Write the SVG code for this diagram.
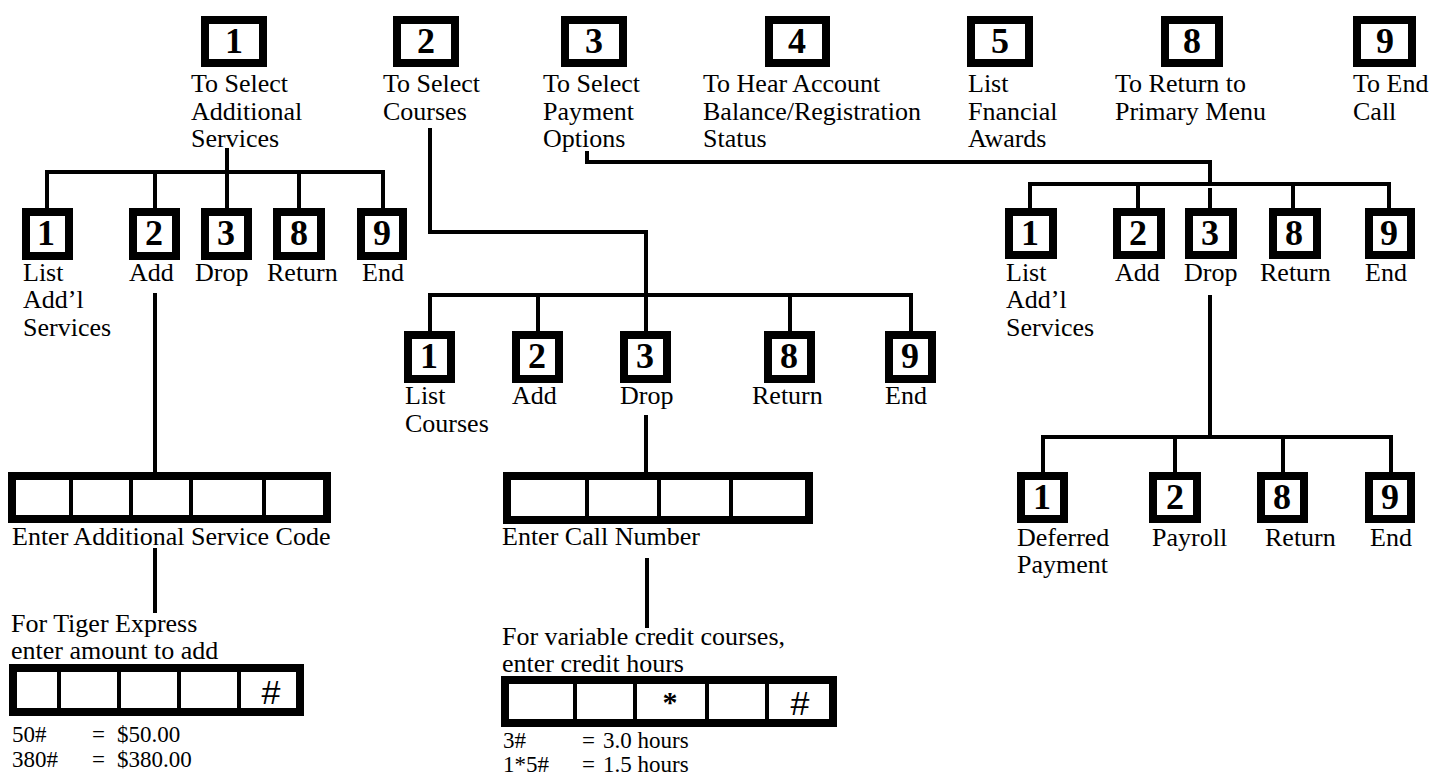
<svg xmlns="http://www.w3.org/2000/svg" width="1437" height="783" viewBox="0 0 1437 783">
<style>
.t{font-family:"Liberation Serif","Times New Roman",serif;font-size:26px;fill:#000}
.e{font-family:"Liberation Serif","Times New Roman",serif;font-size:23px;fill:#000}
.k{fill:#fff;stroke:#000;stroke-width:8}
.d{font-family:"Liberation Serif","Times New Roman",serif;font-size:36px;font-weight:bold;fill:#000;text-anchor:middle}
.h{font-family:"Liberation Sans",Arial,sans-serif;font-size:34px;fill:#000;text-anchor:middle}
.c{fill:none;stroke:#000;stroke-width:4;stroke-linejoin:miter}
.dv{stroke:#000;stroke-width:4}
</style>
<rect width="1437" height="783" fill="#fff"/>
<g id="connectors">
<path class="c" d="M227 148V172M47 208V172H383V208M155 172V208M227 172V208M299 172V208"/>
<path class="c" d="M155 293V472M155 548V613"/>
<path class="c" d="M430 128V232H646V331M430 331V295H911V331M538 295V331M790 295V331"/>
<path class="c" d="M646 415V472M647 558V628"/>
<path class="c" d="M587 151V162H1210V184M1030 208V184H1389V208M1138 184V208M1210 188V208M1293 184V208"/>
<path class="c" d="M1210 295V437M1043 472V437H1391V472M1175 437V472M1283 437V472"/>
</g>
<g id="top1"><rect class="k" x="205" y="20" width="58" height="43"/><text class="d" x="234" y="53">1</text>
<text class="t" x="191" y="92">To Select</text><text class="t" x="191" y="120">Additional</text><text class="t" x="191" y="147">Services</text></g>
<g id="top2"><rect class="k" x="397" y="20" width="58" height="43"/><text class="d" x="426" y="53">2</text>
<text class="t" x="383" y="92">To Select</text><text class="t" x="383" y="120">Courses</text></g>
<g id="top3"><rect class="k" x="565" y="20" width="58" height="43"/><text class="d" x="594" y="53">3</text>
<text class="t" x="543" y="92">To Select</text><text class="t" x="543" y="120">Payment</text><text class="t" x="543" y="147">Options</text></g>
<g id="top4"><rect class="k" x="769" y="20" width="57" height="43"/><text class="d" x="797" y="53">4</text>
<text class="t" x="703" y="92">To Hear Account</text><text class="t" x="703" y="120">Balance/Registration</text><text class="t" x="703" y="147">Status</text></g>
<g id="top5"><rect class="k" x="971" y="20" width="58" height="43"/><text class="d" x="1000" y="53">5</text>
<text class="t" x="968" y="92">List</text><text class="t" x="968" y="120">Fnancial</text><text class="t" x="968" y="147">Awards</text></g>
<g id="top8"><rect class="k" x="1165" y="20" width="54" height="43"/><text class="d" x="1192" y="53">8</text>
<text class="t" x="1115" y="92">To Return to</text><text class="t" x="1115" y="120">Primary Menu</text></g>
<g id="top9"><rect class="k" x="1357" y="20" width="55" height="43"/><text class="d" x="1385" y="53">9</text>
<text class="t" x="1353" y="92">To End</text><text class="t" x="1353" y="120">Call</text></g>

<g id="svc1"><rect class="k" x="26" y="212" width="43" height="44"/><text class="d" x="46" y="245">1</text>
<text class="t" x="23" y="281">List</text><text class="t" x="23" y="308">Add’l</text><text class="t" x="23" y="336">Services</text></g>
<g id="svc2"><rect class="k" x="133" y="212" width="43" height="44"/><text class="d" x="154" y="245">2</text><text class="t" x="129" y="281">Add</text></g>
<g id="svc3"><rect class="k" x="205" y="212" width="43" height="44"/><text class="d" x="226" y="245">3</text><text class="t" x="195" y="281">Drop</text></g>
<g id="svc8"><rect class="k" x="277" y="212" width="44" height="44"/><text class="d" x="299" y="245">8</text><text class="t" x="267" y="281">Return</text></g>
<g id="svc9"><rect class="k" x="361" y="212" width="42" height="44"/><text class="d" x="382" y="245">9</text><text class="t" x="362" y="281">End</text></g>

<g id="svcEntry"><rect class="k" x="12" y="476" width="315" height="43"/>
<path class="dv" d="M71 476V519M131 476V519M191 476V519M264 476V519"/>
<text class="t" x="12" y="545">Enter Additional Service Code</text></g>
<g id="tigerEntry"><text class="t" x="11" y="632">For Tiger Express</text><text class="t" x="11" y="659">enter amount to add</text>
<rect class="k" x="13" y="668" width="287" height="44"/>
<path class="dv" d="M59 668V712M119 668V712M179 668V712M239 668V712"/>
<text class="h" x="271" y="704">#</text>
<text class="e" x="12" y="742">50#</text><text class="e" x="92" y="742">=</text><text class="e" x="117" y="742">$50.00</text>
<text class="e" x="12" y="767">380#</text><text class="e" x="92" y="767">=</text><text class="e" x="117" y="767">$380.00</text></g>

<g id="crs1"><rect class="k" x="408" y="335" width="43" height="44"/><text class="d" x="429" y="368">1</text>
<text class="t" x="405" y="404">List</text><text class="t" x="405" y="432">Courses</text></g>
<g id="crs2"><rect class="k" x="516" y="335" width="43" height="44"/><text class="d" x="537" y="368">2</text><text class="t" x="512" y="404">Add</text></g>
<g id="crs3"><rect class="k" x="624" y="335" width="43" height="44"/><text class="d" x="645" y="368">3</text><text class="t" x="620" y="404">Drop</text></g>
<g id="crs8"><rect class="k" x="768" y="335" width="43" height="44"/><text class="d" x="789" y="368">8</text><text class="t" x="752" y="404">Return</text></g>
<g id="crs9"><rect class="k" x="889" y="335" width="43" height="44"/><text class="d" x="910" y="368">9</text><text class="t" x="885" y="404">End</text></g>

<g id="callEntry"><rect class="k" x="507" y="476" width="302" height="44"/>
<path class="dv" d="M587 476V520M659 476V520M731 476V520"/>
<text class="t" x="502" y="545">Enter Call Number</text></g>
<g id="creditEntry"><text class="t" x="502" y="645">For variable credit courses,</text><text class="t" x="502" y="672">enter credit hours</text>
<rect class="k" x="505" y="680" width="328" height="43"/>
<path class="dv" d="M575 680V723M635 680V723M707 680V723M767 680V723"/>
<text class="d" x="670" y="712" style="font-size:30px">*</text>
<text class="h" x="800" y="715">#</text>
<text class="e" x="503" y="748">3#</text><text class="e" x="582" y="748">=</text><text class="e" x="603" y="748">3.0 hours</text>
<text class="e" x="503" y="772">1*5#</text><text class="e" x="582" y="772">=</text><text class="e" x="603" y="772">1.5 hours</text></g>

<g id="pay1"><rect class="k" x="1009" y="212" width="44" height="43"/><text class="d" x="1030" y="245">1</text>
<text class="t" x="1006" y="281">List</text><text class="t" x="1006" y="308">Add’l</text><text class="t" x="1006" y="336">Services</text></g>
<g id="pay2"><rect class="k" x="1117" y="212" width="44" height="43"/><text class="d" x="1138" y="245">2</text><text class="t" x="1115" y="281">Add</text></g>
<g id="pay3"><rect class="k" x="1189" y="212" width="44" height="43"/><text class="d" x="1210" y="245">3</text><text class="t" x="1184" y="281">Drop</text></g>
<g id="pay8"><rect class="k" x="1273" y="212" width="44" height="43"/><text class="d" x="1294" y="245">8</text><text class="t" x="1260" y="281">Return</text></g>
<g id="pay9"><rect class="k" x="1369" y="212" width="42" height="43"/><text class="d" x="1389" y="245">9</text><text class="t" x="1365" y="281">End</text></g>

<g id="opt1"><rect class="k" x="1021" y="476" width="43" height="43"/><text class="d" x="1042" y="509">1</text>
<text class="t" x="1017" y="546">Deferred</text><text class="t" x="1017" y="573">Payment</text></g>
<g id="opt2"><rect class="k" x="1153" y="476" width="44" height="43"/><text class="d" x="1175" y="509">2</text><text class="t" x="1152" y="546">Payroll</text></g>
<g id="opt8"><rect class="k" x="1261" y="476" width="43" height="43"/><text class="d" x="1282" y="509">8</text><text class="t" x="1265" y="546">Return</text></g>
<g id="opt9"><rect class="k" x="1369" y="476" width="42" height="43"/><text class="d" x="1390" y="509">9</text><text class="t" x="1370" y="546">End</text></g>
</svg>
